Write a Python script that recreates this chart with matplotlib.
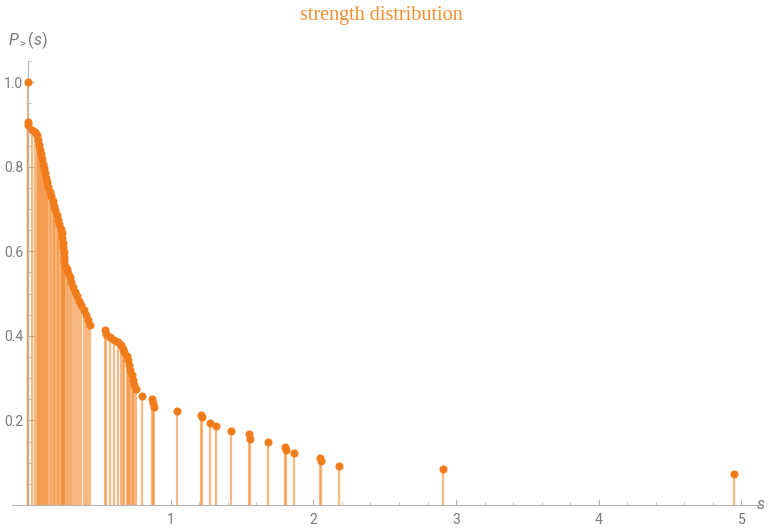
import matplotlib.pyplot as plt
from matplotlib.ticker import MultipleLocator

# strength values s and complementary cumulative P_>(s)
s_vals = [0.0, 0.0, 0.003, 0.03, 0.05, 0.06, 0.07, 0.075, 0.082, 0.09, 0.098,
          0.104, 0.11, 0.117, 0.126, 0.134, 0.143, 0.152, 0.162, 0.172, 0.181,
          0.19, 0.2, 0.212, 0.22, 0.228, 0.236, 0.24, 0.244, 0.247, 0.249,
          0.251, 0.253, 0.258, 0.27, 0.283, 0.292, 0.298, 0.313, 0.33, 0.345,
          0.36, 0.375, 0.39, 0.405, 0.418, 0.432,
          0.54, 0.545, 0.575, 0.605, 0.629, 0.652, 0.668, 0.675, 0.696, 0.703,
          0.71, 0.717, 0.727, 0.738, 0.745, 0.755, 0.797, 0.872, 0.875, 0.88,
          1.047, 1.215, 1.218, 1.274, 1.32, 1.42, 1.552, 1.553, 1.685, 1.80,
          1.81, 1.865, 2.043, 2.055, 2.18, 2.91, 4.95]
p_vals = [1.0, 0.906, 0.899, 0.887, 0.882, 0.874, 0.862, 0.851, 0.840, 0.829, 0.818,
          0.807, 0.796, 0.785, 0.774, 0.763, 0.752, 0.741, 0.730, 0.719, 0.708,
          0.697, 0.686, 0.675, 0.664, 0.653, 0.642, 0.631, 0.620, 0.609, 0.598,
          0.587, 0.576, 0.566, 0.557, 0.549, 0.538, 0.527, 0.515, 0.504, 0.494,
          0.483, 0.472, 0.461, 0.449, 0.437, 0.426,
          0.413, 0.405, 0.397, 0.391, 0.385, 0.379, 0.370, 0.362, 0.352, 0.342,
          0.331, 0.319, 0.308, 0.296, 0.284, 0.274, 0.258, 0.251, 0.242, 0.232,
          0.223, 0.213, 0.207, 0.195, 0.187, 0.176, 0.168, 0.156, 0.149, 0.138,
          0.130, 0.124, 0.112, 0.104, 0.092, 0.085, 0.073]

x_ticks = [1, 2, 3, 4, 5]
y_ticks = [0.2, 0.4, 0.6, 0.8, 1.0]

gray = '#7a7a7a'
axis_gray = '#b5b5b5'
orange = '#f07c1b'

plt.rcParams['font.family'] = ['Roboto', 'DejaVu Sans']
plt.rcParams['mathtext.fontset'] = 'custom'
plt.rcParams['mathtext.it'] = 'Roboto:italic'
plt.rcParams['mathtext.rm'] = 'Roboto'

fig = plt.figure(figsize=(7.68, 5.28), dpi=100)
ax = fig.add_axes([0.016, 0.0436, 0.9736, 0.841])

ax.vlines(s_vals, 0, p_vals, color='#f5903a', alpha=0.62, linewidth=1.6, zorder=2)
ax.plot(s_vals, p_vals, 'o', color=orange, markersize=5.8, markeredgewidth=0, zorder=3)

ax.set_xlim(-0.11, 5.13)
ax.set_ylim(0, 1.05)

for side in ['top', 'right']:
    ax.spines[side].set_visible(False)
ax.spines['left'].set_position(('data', 0))
ax.spines['left'].set_color(axis_gray)
ax.spines['bottom'].set_color(axis_gray)

ax.set_xticks(x_ticks)
ax.set_xticklabels([str(t) for t in x_ticks])
ax.set_yticks(y_ticks)
ax.set_yticklabels(['%.1f' % t for t in y_ticks])
ax.xaxis.set_minor_locator(MultipleLocator(0.2))
ax.yaxis.set_minor_locator(MultipleLocator(0.05))
ax.tick_params(which='both', direction='in', colors=axis_gray, labelcolor=gray,
               labelsize=10)
ax.tick_params(which='major', length=4, width=0.8)
ax.tick_params(which='minor', length=2.5, width=0.6)
ax.tick_params(axis='x', pad=6)

fig.text(0.497, 0.97, 'strength distribution', ha='center', va='center',
         color='#f28e2b', fontsize=14.5, family='Liberation Serif')
fig.text(0.011, 0.924, r'$P_{>}(s)$', ha='left', va='center', color=gray, fontsize=11.5)
fig.text(0.99, 0.0436, r'$s$', ha='center', va='center', color=gray, fontsize=11.5)

fig.savefig('out.png', dpi=100)
